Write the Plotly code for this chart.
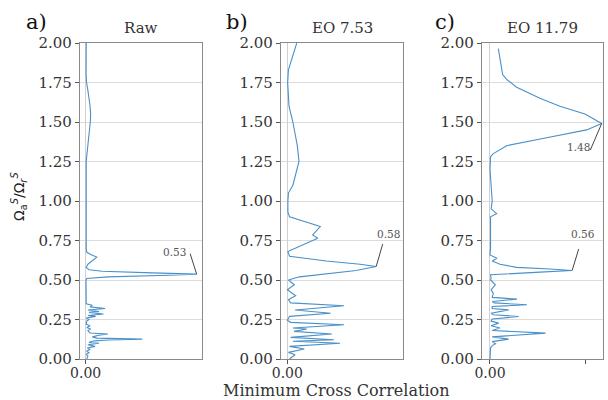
import plotly.graph_objects as go
import numpy as np

# ---------------- data ----------------
titles = ["Raw", "EO 7.53", "EO 11.79"]
panel_tags = ["a)", "b)", "c)"]
y_ticks = [0.0, 0.25, 0.5, 0.75, 1.0, 1.25, 1.5, 1.75, 2.0]
y_tick_text = ["0.00", "0.25", "0.50", "0.75", "1.00", "1.25", "1.50", "1.75", "2.00"]

raw_ratio = [0.00, 0.02, 0.03, 0.04, 0.05, 0.06, 0.07, 0.08, 0.09, 0.10, 0.105, 0.115, 0.12, 0.126, 0.132,
             0.14, 0.15, 0.158, 0.165, 0.18, 0.19, 0.20, 0.21, 0.22, 0.24, 0.25, 0.26, 0.27, 0.275, 0.285,
             0.295, 0.30, 0.31, 0.32, 0.33, 0.34, 0.35, 0.40, 0.45, 0.50, 0.51, 0.52, 0.53, 0.537, 0.545,
             0.555, 0.565, 0.58, 0.60, 0.62, 0.645, 0.66, 0.675, 0.70, 0.80, 1.00, 1.20, 1.25, 1.30, 1.40,
             1.50, 1.55, 1.60, 1.70, 1.75, 1.80, 1.90, 2.00]
raw_corr = [0.01, 0.02, 0.005, 0.03, 0.01, 0.04, 0.015, 0.085, 0.02, 0.12, 0.03, 0.08, 0.20, 0.51, 0.10,
            0.06, 0.12, 0.20, 0.04, 0.02, 0.045, 0.01, 0.04, 0.005, 0.01, 0.03, 0.005, 0.09, 0.02, 0.16,
            0.03, 0.12, 0.02, 0.175, 0.04, 0.06, 0.005, 0.003, 0.004, 0.003, 0.01, 0.20, 0.75, 1.00, 0.60,
            0.15, 0.03, 0.005, 0.02, 0.06, 0.10, 0.05, 0.01, 0.005, 0.004, 0.003, 0.005, 0.005, 0.012, 0.03,
            0.042, 0.045, 0.04, 0.02, 0.008, 0.004, 0.004, 0.005]

eo753_ratio = [0.00, 0.027, 0.042, 0.063, 0.08, 0.10, 0.112, 0.122, 0.137, 0.158, 0.175, 0.19, 0.196, 0.217,
               0.232, 0.245, 0.27, 0.29, 0.31, 0.337, 0.355, 0.375, 0.40, 0.438, 0.47, 0.50, 0.52, 0.54,
               0.56, 0.585, 0.60, 0.62, 0.65, 0.68, 0.72, 0.764, 0.785, 0.838, 0.90, 0.93, 1.00, 1.05,
               1.10, 1.25, 1.35, 1.50, 1.60, 1.75, 1.83, 2.00]
eo753_corr = [0.02, 0.07, 0.01, 0.153, 0.02, 0.475, 0.05, 0.42, 0.03, 0.40, 0.06, 0.175, 0.05, 0.51,
              0.03, 0.0, 0.02, 0.39, 0.07, 0.51, 0.03, 0.01, 0.075, 0.0, 0.063, 0.01, 0.11, 0.35,
              0.62, 0.80, 0.655, 0.35, 0.02, 0.005, 0.14, 0.274, 0.228, 0.297, 0.02, 0.005, 0.005, 0.01,
              0.05, 0.105, 0.09, 0.05, 0.015, 0.003, 0.01, 0.085]

eo1179_ratio = [0.00, 0.07, 0.085, 0.097, 0.11, 0.126, 0.14, 0.164, 0.18, 0.196, 0.21, 0.227, 0.24, 0.253,
                0.269, 0.28, 0.29, 0.311, 0.32, 0.332, 0.343, 0.355, 0.364, 0.379, 0.39, 0.417, 0.438,
                0.47, 0.50, 0.51, 0.533, 0.54, 0.55, 0.56, 0.57, 0.58, 0.60, 0.62, 0.638, 0.659, 0.70,
                0.90, 0.92, 0.95, 1.00, 1.20, 1.28, 1.30, 1.35, 1.40, 1.45, 1.49, 1.55, 1.60, 1.65,
                1.72, 1.77, 1.80, 1.964]
eo1179_corr = [0.0, 0.005, 0.02, 0.05, 0.02, 0.168, 0.02, 0.50, 0.02, 0.09, 0.01, 0.078, 0.01, 0.02,
               0.258, 0.03, 0.01, 0.168, 0.02, 0.02, 0.333, 0.04, 0.02, 0.243, 0.02, 0.03, 0.01,
               0.048, 0.005, 0.01, 0.005, 0.15, 0.45, 0.74, 0.54, 0.24, 0.09, 0.02, 0.063, 0.0, 0.005,
               0.005, 0.06, 0.01, 0.02, 0.0, 0.005, 0.03, 0.15, 0.51, 0.87, 1.006, 0.856, 0.63, 0.45,
               0.24, 0.15, 0.114, 0.075]

x_ranges = [[-0.051, 1.048], [-0.057, 1.042], [-0.072, 1.018]]
x_tick_vals = [[0.0], [0.0], [0.0, 0.862]]
x_tick_text = [["0.00"], ["0.00"], ["0.00", ""]]

# peak annotations: (panel, label, y-window searched for peak)
peak_labels = [(0, "0.53", (0.4, 0.7)), (1, "0.58", (0.4, 0.7)), (2, "0.56", (0.4, 0.7)), (2, "1.48", (1.3, 1.7))]

series = [(raw_ratio, raw_corr), (eo753_ratio, eo753_corr), (eo1179_ratio, eo1179_corr)]

# ---------------- figure ----------------
W, H = 608, 400
x_dom = [[80 / W, 202 / W], [281 / W, 403 / W], [482 / W, 603 / W]]
y_dom = [1 - 359 / H, 1 - 43 / H]

line_col = "#4a90c9"
serif = "DejaVu Serif"
txt_col = "#333333"

fig = go.Figure()
for i, (yr, xc) in enumerate(series):
    sfx = "" if i == 0 else str(i + 1)
    fig.add_trace(go.Scatter(x=xc, y=yr, mode="lines", line=dict(color=line_col, width=1.1),
                             xaxis="x" + sfx, yaxis="y" + sfx, showlegend=False))
    xa = dict(domain=x_dom[i], range=x_ranges[i], anchor="y" + sfx, automargin=False,
              showgrid=False, zeroline=True, zerolinecolor="#d0d0d0", zerolinewidth=1,
              tickvals=x_tick_vals[i], ticktext=x_tick_text[i], ticks="outside", ticklen=4,
              ticklabelstandoff=-3,
              tickcolor="#555", tickfont=dict(family=serif, size=14, color=txt_col),
              showline=True, mirror=True, linecolor="#8a8a8a", linewidth=1.3)
    ya = dict(domain=y_dom, range=[0, 2], anchor="x" + sfx, automargin=False,
              showgrid=True, gridcolor="#dcdcdc", gridwidth=1.2, zeroline=False,
              tickvals=y_ticks, ticktext=y_tick_text, ticks="outside", ticklen=4,
              tickcolor="#555", tickfont=dict(family=serif, size=15, color=txt_col),
              showline=True, mirror=True, linecolor="#8a8a8a", linewidth=1.3)
    fig.layout["xaxis" + sfx] = xa
    fig.layout["yaxis" + sfx] = ya

    # title
    cx = (x_dom[i][0] + x_dom[i][1]) / 2
    fig.add_annotation(x=cx, y=1 - 28 / H, xref="paper", yref="paper", text=titles[i], showarrow=False,
                       font=dict(family=serif, size=15, color=txt_col), xanchor="center", yanchor="middle")

tag_x = [36, 237, 445]
for t, tx in zip(panel_tags, tag_x):
    fig.add_annotation(x=tx / W, y=1 - 22 / H, xref="paper", yref="paper", text=t, showarrow=False,
                       font=dict(family=serif, size=21, color="#111"), xanchor="center", yanchor="middle")

# peak annotations
offsets = {"0.53": (-7, -22, -22, 22), "0.58": (7, -24, 12, 33),
           "0.56": (7, -23, 11, 37), "1.48": (-12, 28, -23, -23)}
for (p, lab, (lo, hi)) in peak_labels:
    yr, xc = series[p]
    yr_a, xc_a = np.array(yr), np.array(xc)
    m = (yr_a >= lo) & (yr_a <= hi)
    k = np.argmax(np.where(m, xc_a, -1))
    px, py = xc_a[k], yr_a[k]
    sfx = "" if p == 0 else str(p + 1)
    ax, ay, xs, ys = offsets[lab]
    fig.add_annotation(x=px, y=py, xref="x" + sfx, yref="y" + sfx, text="", showarrow=True,
                       arrowhead=0, arrowwidth=1, arrowcolor="#444", ax=ax, ay=ay, standoff=0,
                       startstandoff=0)
    fig.add_annotation(x=px, y=py, xref="x" + sfx, yref="y" + sfx, text=lab, showarrow=False,
                       xshift=xs, yshift=ys, font=dict(family=serif, size=10.5, color="#555"))

# axis labels
fig.add_annotation(x=336 / W, y=1 - 390 / H, xref="paper", yref="paper", text="Minimum Cross Correlation",
                   showarrow=False, font=dict(family=serif, size=16, color=txt_col),
                   xanchor="center", yanchor="middle")
fig.add_annotation(x=19 / W, y=1 - 197 / H, xref="paper", yref="paper",
                   text="Ω<sub>a</sub><sup><i>S</i></sup>/Ω<sub><i>r</i></sub><sup><i>S</i></sup>",
                   showarrow=False, textangle=-90, font=dict(family="DejaVu Sans", size=14, color="#222"),
                   xanchor="center", yanchor="middle")

fig.update_layout(width=W, height=H, margin=dict(l=0, r=0, t=0, b=0),
                  paper_bgcolor="white", plot_bgcolor="white")

fig.write_html("out.html")
